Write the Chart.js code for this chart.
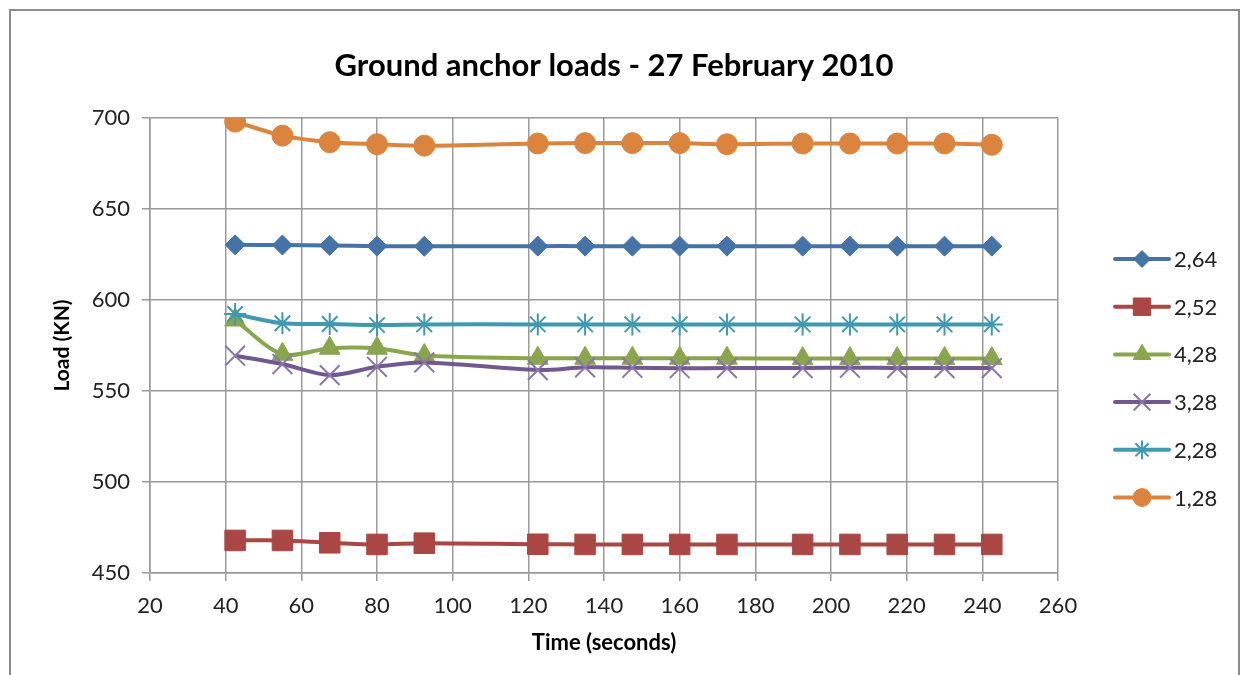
<!DOCTYPE html>
<html>
<head>
<meta charset="utf-8">
<script src="https://cdn.jsdelivr.net/npm/chart.js@4/dist/chart.umd.min.js"></script>
<style>
  html, body { margin: 0; padding: 0; background: #fff; overflow: hidden; }
  #wrap { position: relative; width: 1241px; height: 675px; }
  #frame { position: absolute; left: 9px; top: 9px; width: 1227px; height: 700px; border: 2px solid #8c8c8c; pointer-events: none; }
</style>
</head>
<body>
<div id="wrap">
  <canvas id="chart"></canvas>
  <div id="frame"></div>
</div>
<script>
// time of each reading (seconds)
const times = [42.5, 55, 67.5, 80, 92.5, 122.5, 135, 147.5, 160, 172.5, 192.5, 205, 217.5, 230, 242.5];

// anchor loads (KN), one array per anchor
const load264 = [630.3, 630.2, 630.0, 629.6, 629.5, 629.6, 629.6, 629.6, 629.6, 629.6, 629.6, 629.6, 629.6, 629.6, 629.6];
const load252 = [467.9, 467.9, 466.6, 465.7, 466.4, 465.8, 465.7, 465.7, 465.7, 465.7, 465.7, 465.7, 465.7, 465.7, 465.7];
const load428 = [589.0, 570.2, 573.5, 573.5, 569.5, 568.0, 568.0, 568.0, 568.0, 568.0, 567.8, 567.8, 567.8, 567.8, 567.8];
const load328 = [569.4, 564.8, 558.7, 563.3, 565.7, 561.5, 563.0, 562.8, 562.5, 562.6, 562.6, 562.8, 562.6, 562.6, 562.6];
const load228 = [592.3, 587.2, 586.8, 586.2, 586.6, 586.6, 586.6, 586.6, 586.6, 586.6, 586.6, 586.6, 586.6, 586.6, 586.6];
const load128 = [698.0, 690.3, 686.7, 685.6, 684.8, 686.0, 686.2, 686.2, 686.2, 685.6, 686.0, 686.0, 686.0, 686.0, 685.3];

const seriesNames = ["2,64", "2,52", "4,28", "3,28", "2,28", "1,28"];
const seriesData = [load264, load252, load428, load328, load228, load128];
const colors = ["#4572A7", "#AA4643", "#89A54E", "#71588F", "#4198AF", "#DB843D"];
const markerColors = ["#4572A7", "#AA4643", "#89A54E", "#8a76a8", "#4198AF", "#DB843D"];
const styles = ["rectRot", "rect", "triangle", "crossRot", "star", "circle"];
const radii = [10, 14.5, 12, 14, 11, 10.5];

const chartTitle = "Ground anchor loads - 27 February 2010";
const FONT = "Lato, 'Open Sans', sans-serif";

const toPoints = (arr) => arr.map((v, i) => ({ x: times[i], y: v }));

const datasets = seriesData.map((arr, i) => ({
    label: seriesNames[i],
    data: toPoints(arr),
    borderColor: colors[i],
    backgroundColor: markerColors[i],
    pointBorderColor: markerColors[i],
    pointBackgroundColor: markerColors[i],
    borderWidth: 4,
    pointStyle: styles[i],
    pointRadius: radii[i],
    pointBorderWidth: (styles[i] === "crossRot" || styles[i] === "star") ? 2 : 1,
    tension: 0.3,
    order: seriesNames.length - i, // later series drawn on top, like the original
}));

// title centred over the whole frame, not only the plot
const frameTitle = {
    id: "frameTitle",
    afterDraw(chart) {
        const ctx = chart.ctx;
        ctx.save();
        ctx.fillStyle = "#000";
        ctx.font = "bold 31px " + FONT;
        ctx.textAlign = "center";
        ctx.textBaseline = "middle";
        ctx.fillText(chartTitle, 614, 66);
        ctx.restore();
    },
};

// legend on the right: line with marker, then the label
const sideLegend = {
    id: "sideLegend",
    afterDraw(chart) {
        const ctx = chart.ctx;
        const x0 = 1115, x1 = 1169, top = 259, step = 47.7;
        ctx.save();
        chart.data.datasets.forEach((ds, i) => {
            const y = top + i * step;
            ctx.strokeStyle = ds.borderColor;
            ctx.lineWidth = 4;
            ctx.lineCap = "round";
            ctx.beginPath();
            ctx.moveTo(x0, y);
            ctx.lineTo(x1, y);
            ctx.stroke();
            ctx.lineCap = "butt";
            ctx.fillStyle = ds.pointBackgroundColor;
            ctx.strokeStyle = ds.pointBorderColor;
            ctx.lineWidth = ds.pointBorderWidth;
            Chart.helpers.drawPoint(ctx, {
                pointStyle: ds.pointStyle,
                radius: ds.pointRadius * 0.85,
                rotation: 0,
                borderWidth: ds.pointBorderWidth,
            }, (x0 + x1) / 2, y);
            ctx.fillStyle = "#222";
            ctx.font = "22px " + FONT;
            ctx.textBaseline = "middle";
            ctx.textAlign = "left";
            ctx.fillText(ds.label, x1 + 5, y + 1);
        });
        ctx.restore();
    },
};

new Chart(document.getElementById("chart"), {
    type: "line",
    data: { datasets },
    plugins: [frameTitle, sideLegend],
    options: {
        responsive: true,
        maintainAspectRatio: false,
        animation: false,
        layout: { padding: { left: 0, right: 183, top: 118, bottom: 0 } },
        plugins: {
            legend: { display: false },
            tooltip: { enabled: false },
            title: { display: false },
        },
        scales: {
            x: {
                type: "linear",
                min: 20,
                max: 260,
                ticks: { stepSize: 20, color: "#222", font: { family: FONT, size: 22 }, padding: 12 },
                grid: { color: "#9a9a9a", lineWidth: 1.5, tickLength: 8 },
                border: { color: "#9a9a9a", width: 1.5 },
                title: {
                    display: true,
                    text: "Time (seconds)",
                    color: "#000",
                    font: { family: FONT, size: 22, weight: "bold" },
                    padding: { top: 0, bottom: 19 },
                },
                afterFit: (s) => { s.height = 102; },
            },
            y: {
                min: 450,
                max: 700,
                ticks: { stepSize: 50, color: "#222", font: { family: FONT, size: 22 }, padding: 12 },
                grid: { color: "#9a9a9a", lineWidth: 1.5, tickLength: 8 },
                border: { color: "#9a9a9a", width: 1.5 },
                title: {
                    display: true,
                    text: "Load (KN)",
                    color: "#000",
                    font: { family: FONT, size: 21, weight: "bold" },
                    padding: { top: 50, bottom: 0 },
                },
                afterFit: (s) => { s.width = 150; },
            },
        },
    },
});
</script>
</body>
</html>
